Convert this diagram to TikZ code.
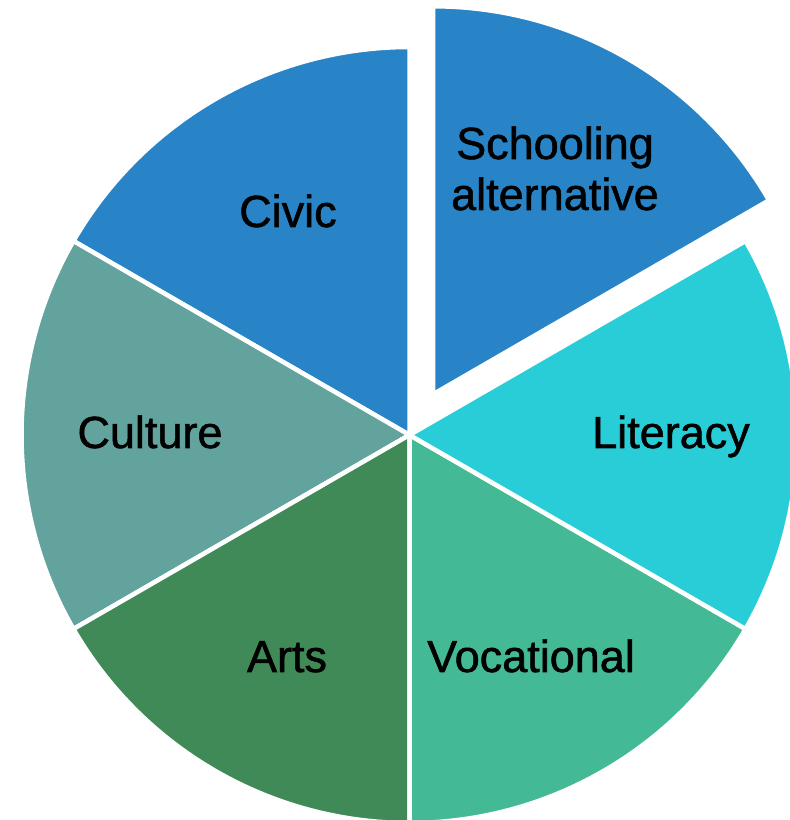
\documentclass[tikz,border=0pt]{standalone}
\usepackage{fontspec}
\setmainfont{Liberation Sans}
\newfontfamily\lblfont[FakeBold=1.2]{Liberation Sans}
\usetikzlibrary{calc}
\definecolor{cblue}{HTML}{2884C6}
\definecolor{ccyan}{HTML}{28CDD7}
\definecolor{cvoc}{HTML}{44B995}
\definecolor{carts}{HTML}{3F8A56}
\definecolor{ccult}{HTML}{63A39E}
\begin{document}
\begin{tikzpicture}[x=1pt,y=1pt,
  slice/.style={draw=white,line width=4.5pt,line join=miter},
  lbl/.style={anchor=base,inner sep=0pt,font=\lblfont\fontsize{45}{50}\selectfont,text=black}]
\useasboundingbox (0,0) rectangle (790,820);
\clip (0,0) rectangle (790,820);
\fill[white] (0,0) rectangle (790,820);
\coordinate (O) at (409.5,385);
\coordinate (E) at ($(O)+(60:47)$);
% exploded slice
\filldraw[fill=cblue,slice] (E) -- ++(30:388) arc[start angle=30,end angle=90,radius=388] -- cycle;
% other slices
\filldraw[fill=cblue,slice] (O) -- ++(90:388) arc[start angle=90,end angle=150,radius=388] -- cycle;
\filldraw[fill=ccult,slice] (O) -- ++(150:388) arc[start angle=150,end angle=210,radius=388] -- cycle;
\filldraw[fill=carts,slice] (O) -- ++(210:388) arc[start angle=210,end angle=270,radius=388] -- cycle;
\filldraw[fill=cvoc,slice] (O) -- ++(270:388) arc[start angle=270,end angle=330,radius=388] -- cycle;
\filldraw[fill=ccyan,slice] (O) -- ++(330:388) arc[start angle=330,end angle=390,radius=388] -- cycle;
% labels
\node[lbl] (school1) at (555,661) {Schooling};
\node[lbl] (school2) at (555,610) {alternative};
\node[lbl] (civic) at (288,593) {Civic};
\node[lbl] (literacy) at (671,372) {Literacy};
\node[lbl] (culture) at (150,372) {Culture};
\node[lbl] (vocational) at (531,148) {Vocational};
\node[lbl] (arts) at (287,148) {Arts};
\end{tikzpicture}
\end{document}
